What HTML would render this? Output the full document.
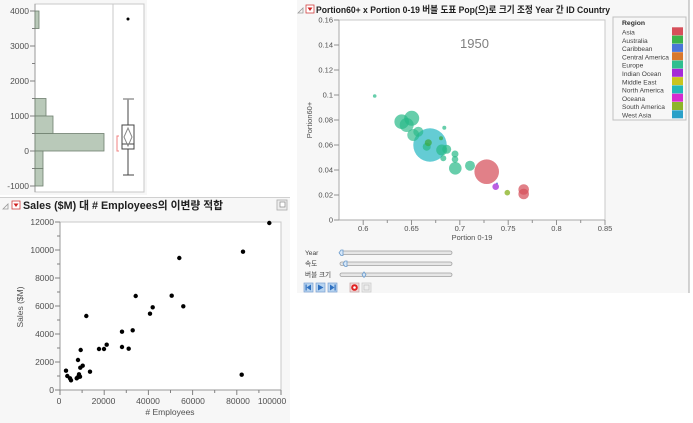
<!DOCTYPE html>
<html><head><meta charset="utf-8"><style>
html,body{margin:0;padding:0;background:#fff;}
svg{display:block;font-family:"Liberation Sans","Noto Sans CJK KR",sans-serif;}
.t{font-size:8.5px;fill:#505050;}
.s{font-size:7.5px;fill:#505050;}
.lg{font-size:6.6px;fill:#404040;}
</style></head><body>
<svg width="693" height="423" viewBox="0 0 693 423" xmlns="http://www.w3.org/2000/svg">
<!-- top-left panel -->
<rect x="0" y="0" width="147" height="195" fill="#f7f7f7"/>
<rect x="35" y="4" width="109" height="188" fill="#fff" stroke="#c8c8c8" stroke-width="1"/>
<line x1="113" y1="4" x2="113" y2="192" stroke="#c8c8c8"/>
<line x1="35" y1="4" x2="35" y2="192" stroke="#9a9a9a"/>
<g stroke="#808080" stroke-width="1">
<line x1="30" y1="11" x2="35" y2="11"/><line x1="32" y1="28.5" x2="35" y2="28.5"/>
<line x1="30" y1="46" x2="35" y2="46"/><line x1="32" y1="63.5" x2="35" y2="63.5"/>
<line x1="30" y1="81" x2="35" y2="81"/><line x1="32" y1="98.5" x2="35" y2="98.5"/>
<line x1="30" y1="116" x2="35" y2="116"/><line x1="32" y1="133.5" x2="35" y2="133.5"/>
<line x1="30" y1="151" x2="35" y2="151"/><line x1="32" y1="168.5" x2="35" y2="168.5"/>
<line x1="30" y1="186" x2="35" y2="186"/>
</g>
<g class="t" text-anchor="end">
<text x="29" y="14">4000</text><text x="29" y="49">3000</text><text x="29" y="84">2000</text>
<text x="29" y="119">1000</text><text x="29" y="154">0</text><text x="29" y="189">-1000</text>
</g>
<g fill="#b9c9b9" stroke="#6f7f6f" stroke-width="0.8">
<rect x="35" y="11" width="4" height="17.5"/>
<rect x="35" y="98.5" width="11" height="17.5"/>
<rect x="35" y="116" width="18" height="17.5"/>
<rect x="35" y="133.5" width="69" height="17.5"/>
<rect x="35" y="151" width="8" height="17.5"/>
<rect x="35" y="168.5" width="8" height="17.5"/>
</g>
<circle cx="128" cy="19" r="1.5" fill="#000"/>
<line x1="128" y1="99" x2="128" y2="125" stroke="#444"/>
<line x1="123" y1="99" x2="134" y2="99" stroke="#999" stroke-width="1.5"/>
<line x1="128" y1="149" x2="128" y2="175" stroke="#444"/>
<line x1="123" y1="175" x2="134" y2="175" stroke="#444"/>
<rect x="122" y="125" width="12" height="24" fill="none" stroke="#444"/>
<line x1="122" y1="144" x2="134" y2="144" stroke="#444"/>
<polygon points="128,128 132,137 128,146 124,137" fill="none" stroke="#888"/>
<polyline points="119,136 117,136 117,151 119,151" fill="none" stroke="#f08080" stroke-width="1"/>

<!-- bottom-left panel -->
<rect x="0" y="197" width="290" height="226" fill="#f7f7f7"/>
<line x1="0" y1="197.5" x2="290" y2="197.5" stroke="#d0d0d0"/>
<polygon points="3,209 8,204 8,209" fill="none" stroke="#999" stroke-width="0.8"/>
<rect x="12" y="201" width="8" height="8" fill="#fff" stroke="#d04040" stroke-width="0.8"/>
<polygon points="13.5,203.5 18.5,203.5 16,207" fill="#d02020"/>
<text x="23" y="209" font-size="11" font-weight="bold" fill="#202020" textLength="200" lengthAdjust="spacingAndGlyphs">Sales ($M) 대 # Employees의 이변량 적합</text>
<rect x="277" y="200" width="10" height="10" fill="#eee" stroke="#aaa" stroke-width="0.8"/>
<rect x="280" y="202" width="5" height="5" fill="#fff" stroke="#888" stroke-width="0.7"/>
<rect x="60" y="222" width="221" height="168" fill="#fff" stroke="#c8c8c8"/>
<line x1="60" y1="222" x2="60" y2="390" stroke="#9a9a9a"/>
<line x1="60" y1="390" x2="281" y2="390" stroke="#9a9a9a"/>
<g stroke="#808080">
<line x1="55" y1="222" x2="60" y2="222"/><line x1="57" y1="236" x2="60" y2="236"/>
<line x1="55" y1="250" x2="60" y2="250"/><line x1="57" y1="264" x2="60" y2="264"/>
<line x1="55" y1="278" x2="60" y2="278"/><line x1="57" y1="292" x2="60" y2="292"/>
<line x1="55" y1="306" x2="60" y2="306"/><line x1="57" y1="320" x2="60" y2="320"/>
<line x1="55" y1="334" x2="60" y2="334"/><line x1="57" y1="348" x2="60" y2="348"/>
<line x1="55" y1="362" x2="60" y2="362"/><line x1="57" y1="376" x2="60" y2="376"/>
<line x1="55" y1="390" x2="60" y2="390"/>
<line x1="60" y1="390" x2="60" y2="395"/><line x1="82.1" y1="390" x2="82.1" y2="393"/>
<line x1="104.2" y1="390" x2="104.2" y2="395"/><line x1="126.3" y1="390" x2="126.3" y2="393"/>
<line x1="148.4" y1="390" x2="148.4" y2="395"/><line x1="170.5" y1="390" x2="170.5" y2="393"/>
<line x1="192.6" y1="390" x2="192.6" y2="395"/><line x1="214.7" y1="390" x2="214.7" y2="393"/>
<line x1="236.8" y1="390" x2="236.8" y2="395"/><line x1="258.9" y1="390" x2="258.9" y2="393"/>
<line x1="281" y1="390" x2="281" y2="395"/>
</g>
<g class="t" text-anchor="end">
<text x="54" y="225">12000</text><text x="54" y="253">10000</text><text x="54" y="281">8000</text>
<text x="54" y="309">6000</text><text x="54" y="337">4000</text><text x="54" y="365">2000</text><text x="54" y="393">0</text>
</g>
<g class="t" text-anchor="middle">
<text x="59" y="404">0</text><text x="103.5" y="404">20000</text><text x="148" y="404">40000</text>
<text x="193" y="404">60000</text><text x="238" y="404">80000</text><text x="272" y="404">100000</text>
</g>
<text x="170" y="415" class="t" text-anchor="middle"># Employees</text>
<text transform="translate(23,307) rotate(-90)" class="t" text-anchor="middle">Sales ($M)</text>
<g fill="#000">
<circle cx="66" cy="370.7" r="2.2"/><circle cx="67.3" cy="376" r="2.2"/><circle cx="70" cy="378.3" r="2.2"/>
<circle cx="71" cy="380.3" r="2.2"/><circle cx="76.7" cy="378.3" r="2.2"/><circle cx="78" cy="360" r="2.2"/>
<circle cx="79" cy="374.3" r="2.2"/><circle cx="78.7" cy="376.7" r="2.2"/><circle cx="80" cy="376.7" r="2.2"/>
<circle cx="80.7" cy="350" r="2.2"/><circle cx="80.3" cy="367.7" r="2.2"/><circle cx="82.7" cy="365.7" r="2.2"/>
<circle cx="86.3" cy="316" r="2.2"/><circle cx="90" cy="371.7" r="2.2"/><circle cx="99" cy="349" r="2.2"/>
<circle cx="104" cy="349" r="2.2"/><circle cx="106.7" cy="344.7" r="2.2"/><circle cx="122" cy="331.7" r="2.2"/>
<circle cx="122" cy="347" r="2.2"/><circle cx="128.7" cy="348.7" r="2.2"/><circle cx="132.7" cy="330.3" r="2.2"/>
<circle cx="135.7" cy="296" r="2.2"/><circle cx="150" cy="313.7" r="2.2"/><circle cx="152.7" cy="307.3" r="2.2"/>
<circle cx="171.7" cy="295.7" r="2.2"/><circle cx="179.3" cy="258" r="2.2"/><circle cx="183.3" cy="306.3" r="2.2"/>
<circle cx="241.7" cy="374.7" r="2.2"/><circle cx="243" cy="251.7" r="2.2"/><circle cx="269.3" cy="223" r="2.2"/>
<circle cx="77.5" cy="377.5" r="2.2"/>
</g>

<!-- right panel -->
<rect x="297" y="0" width="392" height="293" fill="#f7f7f7"/>
<line x1="689" y1="0" x2="689" y2="293" stroke="#a8a8a8"/>
<polygon points="298,13 303,8 303,13" fill="none" stroke="#999" stroke-width="0.8"/>
<rect x="306" y="5" width="8" height="8" fill="#fff" stroke="#d04040" stroke-width="0.8"/>
<polygon points="307.5,7.5 312.5,7.5 310,11" fill="#d02020"/>
<text x="316" y="13" font-size="9.5" font-weight="bold" fill="#202020" textLength="294" lengthAdjust="spacingAndGlyphs">Portion60+ x Portion 0-19 버블 도표 Pop(으)로 크기 조정 Year 간 ID Country</text>
<rect x="339" y="20" width="266" height="200" fill="#fff" stroke="#c8c8c8"/>
<line x1="339" y1="20" x2="339" y2="220" stroke="#a8a8a8"/>
<line x1="339" y1="220" x2="605" y2="220" stroke="#a8a8a8"/>
<g stroke="#909090">
<line x1="334" y1="20" x2="339" y2="20"/><line x1="334" y1="45" x2="339" y2="45"/>
<line x1="334" y1="70" x2="339" y2="70"/><line x1="334" y1="95" x2="339" y2="95"/>
<line x1="334" y1="120" x2="339" y2="120"/><line x1="334" y1="145" x2="339" y2="145"/>
<line x1="334" y1="170" x2="339" y2="170"/><line x1="334" y1="195" x2="339" y2="195"/>
<line x1="334" y1="220" x2="339" y2="220"/>
<line x1="363.2" y1="220" x2="363.2" y2="225"/><line x1="387.3" y1="220" x2="387.3" y2="223"/>
<line x1="411.5" y1="220" x2="411.5" y2="225"/><line x1="435.7" y1="220" x2="435.7" y2="223"/>
<line x1="459.8" y1="220" x2="459.8" y2="225"/><line x1="484" y1="220" x2="484" y2="223"/>
<line x1="508.2" y1="220" x2="508.2" y2="225"/><line x1="532.3" y1="220" x2="532.3" y2="223"/>
<line x1="556.5" y1="220" x2="556.5" y2="225"/><line x1="580.7" y1="220" x2="580.7" y2="223"/>
<line x1="605" y1="220" x2="605" y2="225"/>
</g>
<g class="s" text-anchor="end">
<text x="333" y="22.5">0.16</text><text x="333" y="47.5">0.14</text><text x="333" y="72.5">0.12</text>
<text x="333" y="97.5">0.1</text><text x="333" y="122.5">0.08</text><text x="333" y="147.5">0.06</text>
<text x="333" y="172.5">0.04</text><text x="333" y="197.5">0.02</text><text x="333" y="222.5">0</text>
</g>
<g class="s" text-anchor="middle">
<text x="363.2" y="231">0.6</text><text x="411.5" y="231">0.65</text><text x="459.8" y="231">0.7</text>
<text x="508.2" y="231">0.75</text><text x="556.5" y="231">0.8</text><text x="605" y="231">0.85</text>
</g>
<text x="472" y="240" class="s" text-anchor="middle">Portion 0-19</text>
<text transform="translate(312,120) rotate(-90)" class="s" text-anchor="middle">Portion60+</text>
<text x="474.5" y="48" font-size="13" fill="#808080" text-anchor="middle">1950</text>
<g>
<circle cx="374.7" cy="96" r="1.8" fill="rgba(38,185,135,0.7)"/>
<circle cx="430" cy="145" r="16.7" fill="rgba(40,185,195,0.72)"/>
<circle cx="401.7" cy="121.7" r="7.3" fill="rgba(38,185,135,0.7)"/>
<circle cx="411.7" cy="118.3" r="7.5" fill="rgba(38,185,135,0.7)"/>
<circle cx="406.7" cy="125" r="7" fill="rgba(38,185,135,0.65)"/>
<circle cx="413.3" cy="135" r="6" fill="rgba(38,185,135,0.65)"/>
<circle cx="418.3" cy="131.7" r="5" fill="rgba(38,185,135,0.65)"/>
<circle cx="426.7" cy="146.7" r="4" fill="rgba(38,185,135,0.7)"/>
<circle cx="428.3" cy="142.7" r="3.5" fill="rgba(60,170,70,0.75)"/>
<circle cx="441" cy="138.3" r="2" fill="rgba(60,170,70,0.75)"/>
<circle cx="444.3" cy="127.7" r="2" fill="rgba(38,185,135,0.7)"/>
<circle cx="441.7" cy="150" r="5.5" fill="rgba(38,185,135,0.7)"/>
<circle cx="446.7" cy="149.3" r="4.5" fill="rgba(38,185,135,0.7)"/>
<circle cx="443.3" cy="158.3" r="3" fill="rgba(38,185,135,0.7)"/>
<circle cx="455" cy="154" r="3.5" fill="rgba(38,185,135,0.7)"/>
<circle cx="455" cy="159.3" r="3.3" fill="rgba(38,185,135,0.7)"/>
<circle cx="455.3" cy="168.3" r="6.3" fill="rgba(38,185,135,0.7)"/>
<circle cx="470" cy="165.7" r="5" fill="rgba(38,185,135,0.7)"/>
<circle cx="486.7" cy="171.7" r="12.3" fill="rgba(214,79,90,0.72)"/>
<circle cx="497" cy="183.5" r="1" fill="rgba(74,118,216,0.8)"/>
<circle cx="495.7" cy="186.7" r="3.3" fill="rgba(165,42,216,0.75)"/>
<circle cx="507.3" cy="192.7" r="2.8" fill="rgba(141,181,42,0.8)"/>
<circle cx="523.7" cy="189.5" r="5.3" fill="rgba(214,79,90,0.72)"/>
<circle cx="523.7" cy="194" r="5.3" fill="rgba(214,79,90,0.72)"/>
</g>
<rect x="613" y="17" width="73" height="103" fill="#f7f7f7" stroke="#c0c0c0"/>
<text x="622" y="25" font-size="6.8" font-weight="bold" fill="#303030">Region</text>
<g class="lg">
<text x="622" y="34.5">Asia</text><text x="622" y="42.8">Australia</text><text x="622" y="51.1">Caribbean</text>
<text x="622" y="59.4">Central America</text><text x="622" y="67.7">Europe</text><text x="622" y="76">Indian Ocean</text>
<text x="622" y="84.3">Middle East</text><text x="622" y="92.6">North America</text><text x="622" y="100.9">Oceana</text>
<text x="622" y="109.2">South America</text><text x="622" y="117.5">West Asia</text>
</g>
<g>
<rect x="672" y="27.3" width="11" height="8" fill="#d64f5a"/>
<rect x="672" y="35.6" width="11" height="8" fill="#3cb44b"/>
<rect x="672" y="43.9" width="11" height="8" fill="#4a76d8"/>
<rect x="672" y="52.2" width="11" height="8" fill="#d8782c"/>
<rect x="672" y="60.5" width="11" height="8" fill="#2fbf8f"/>
<rect x="672" y="68.8" width="11" height="8" fill="#a52ad8"/>
<rect x="672" y="77.1" width="11" height="8" fill="#c8c41e"/>
<rect x="672" y="85.4" width="11" height="8" fill="#21b7b7"/>
<rect x="672" y="93.7" width="11" height="8" fill="#d42ad0"/>
<rect x="672" y="102" width="11" height="8" fill="#8db52a"/>
<rect x="672" y="110.3" width="11" height="8" fill="#2aa0c8"/>
</g>
<g class="lg">
<text x="305" y="255">Year</text><text x="305" y="266">속도</text><text x="305" y="277">버블 크기</text>
</g>
<g fill="#e6e6e6" stroke="#a0a0a0" stroke-width="0.8">
<rect x="340" y="251" width="112" height="3.5" rx="1.7"/>
<rect x="340" y="262" width="112" height="3.5" rx="1.7"/>
<rect x="340" y="273" width="112" height="3.5" rx="1.7"/>
</g>
<g fill="#d8e8f8" stroke="#6a9acc" stroke-width="0.8">
<polygon points="339,252.8 341,250 343,250 343,255.5 341,255.5"/>
<polygon points="343,263.8 345,261 347,261 347,266.5 345,266.5"/>
<polygon points="362,274.8 364,272 366,274.8 364,277.5"/>
</g>
<g>
<rect x="304" y="283" width="9" height="9" fill="#b8d4f0" stroke="#7aa0d0" stroke-width="0.7"/>
<polygon points="311,284.5 306.5,287.5 311,290.5" fill="#2f70c0"/><rect x="305.5" y="284.5" width="1.2" height="6" fill="#2f70c0"/>
<rect x="316" y="283" width="9" height="9" fill="#b8d4f0" stroke="#7aa0d0" stroke-width="0.7"/>
<polygon points="318,284.5 323.5,287.5 318,290.5" fill="#2f70c0"/>
<rect x="328" y="283" width="9" height="9" fill="#b8d4f0" stroke="#7aa0d0" stroke-width="0.7"/>
<polygon points="330,284.5 334.5,287.5 330,290.5" fill="#2f70c0"/><rect x="334.5" y="284.5" width="1.2" height="6" fill="#2f70c0"/>
<rect x="350" y="283" width="9" height="9" fill="#f0d8d8" stroke="#c0a0a0" stroke-width="0.7"/>
<circle cx="354.5" cy="287.5" r="3.3" fill="#e02020"/><circle cx="354.5" cy="287.5" r="1.3" fill="#fff"/>
<rect x="362" y="283" width="9" height="9" fill="#eeeeee" stroke="#c8c8c8" stroke-width="0.7"/>
<rect x="364" y="285" width="5" height="5" fill="none" stroke="#c0c0c0" stroke-width="0.7"/>
</g>
</svg>
</body></html>
